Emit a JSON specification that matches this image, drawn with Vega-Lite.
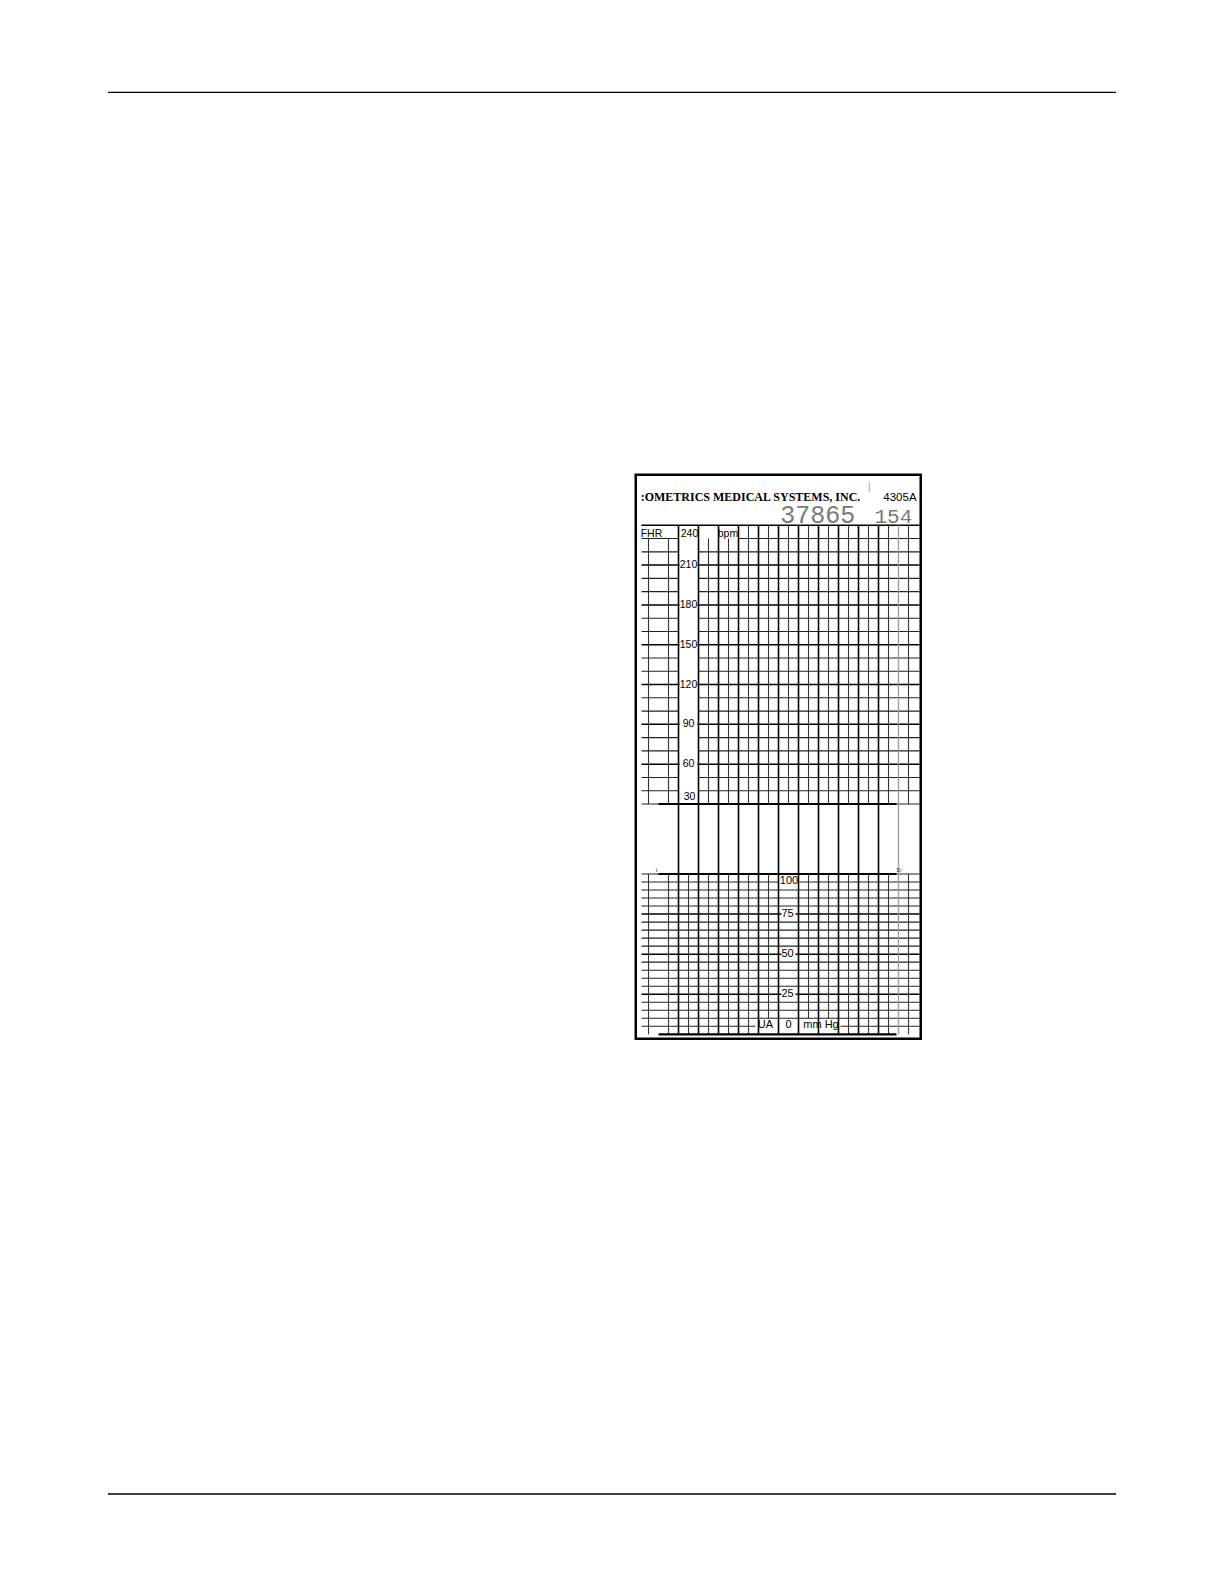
{
  "$schema": "https://vega.github.io/schema/vega-lite/v6.json",
  "description": "Fetal monitor strip chart paper (FHR bpm / UA mm Hg) on a letter page",
  "width": 1224,
  "height": 1584,
  "autosize": {"type": "fit", "contains": "padding"},
  "padding": 0,
  "background": "white",
  "config": {"view": {"stroke": null}},
  "datasets": {
    "page_rules": [
      {"x0": 0.75, "x1": 7.75, "y": 0.641},
      {"x0": 0.75, "x1": 7.75, "y": 10.375}
    ],
    "frame": [{"x0": 4.415, "x1": 6.394, "y0": 3.297, "y1": 7.213}],
    "header_serif": [{"label": ":OMETRICS MEDICAL SYSTEMS, INC.", "x": 4.449, "y": 3.477}],
    "header_sans": [{"label": "4305A", "x": 6.134, "y": 3.477}],
    "header_serial": [{"label": "37865", "x": 5.679, "y": 3.634}],
    "header_page": [{"label": "154", "x": 6.204, "y": 3.634}],
    "header_tick": [{"x": 6.037, "y0": 3.345, "y1": 3.415}],
    "fhr_minor": [
      {"bpm": 30, "t0": -7, "t1": 271},
      {"bpm": 40, "t0": -7, "t1": 30}, {"bpm": 40, "t0": 50, "t1": 271},
      {"bpm": 50, "t0": -7, "t1": 30}, {"bpm": 50, "t0": 50, "t1": 271},
      {"bpm": 70, "t0": -7, "t1": 30}, {"bpm": 70, "t0": 50, "t1": 271},
      {"bpm": 80, "t0": -7, "t1": 30}, {"bpm": 80, "t0": 50, "t1": 271},
      {"bpm": 100, "t0": -7, "t1": 30}, {"bpm": 100, "t0": 50, "t1": 271},
      {"bpm": 110, "t0": -7, "t1": 30}, {"bpm": 110, "t0": 50, "t1": 271},
      {"bpm": 130, "t0": -7, "t1": 30}, {"bpm": 130, "t0": 50, "t1": 271},
      {"bpm": 140, "t0": -7, "t1": 30}, {"bpm": 140, "t0": 50, "t1": 271},
      {"bpm": 160, "t0": -7, "t1": 30}, {"bpm": 160, "t0": 50, "t1": 271},
      {"bpm": 170, "t0": -7, "t1": 30}, {"bpm": 170, "t0": 50, "t1": 271},
      {"bpm": 190, "t0": -7, "t1": 30}, {"bpm": 190, "t0": 50, "t1": 271},
      {"bpm": 200, "t0": -7, "t1": 30}, {"bpm": 200, "t0": 50, "t1": 271},
      {"bpm": 220, "t0": -7, "t1": 30}, {"bpm": 220, "t0": 50, "t1": 271},
      {"bpm": 230, "t0": -7, "t1": 30}, {"bpm": 230, "t0": 90, "t1": 271}
    ],
    "fhr_major": [
      {"bpm": 60, "t0": -7, "t1": 31}, {"bpm": 60, "t0": 49, "t1": 271},
      {"bpm": 90, "t0": -7, "t1": 31}, {"bpm": 90, "t0": 49, "t1": 271},
      {"bpm": 120, "t0": -7, "t1": 31}, {"bpm": 120, "t0": 49, "t1": 271},
      {"bpm": 150, "t0": -7, "t1": 31}, {"bpm": 150, "t0": 49, "t1": 271},
      {"bpm": 180, "t0": -7, "t1": 31}, {"bpm": 180, "t0": 49, "t1": 271},
      {"bpm": 210, "t0": -7, "t1": 31}, {"bpm": 210, "t0": 49, "t1": 271},
      {"bpm": 240, "t0": -7, "t1": 271}
    ],
    "fhr_heavy": [{"bpm": 30, "t0": 10, "t1": 248}],
    "fhr_thin_v": [
      {"t": 0, "bpm0": 30, "bpm1": 230}, {"t": 20, "bpm0": 30, "bpm1": 230},
      {"t": 60, "bpm0": 30, "bpm1": 230}, {"t": 80, "bpm0": 30, "bpm1": 230},
      {"t": 100, "bpm0": 30, "bpm1": 240}, {"t": 120, "bpm0": 30, "bpm1": 240},
      {"t": 140, "bpm0": 30, "bpm1": 240}, {"t": 160, "bpm0": 30, "bpm1": 240},
      {"t": 180, "bpm0": 30, "bpm1": 240}, {"t": 200, "bpm0": 30, "bpm1": 240},
      {"t": 220, "bpm0": 30, "bpm1": 240}, {"t": 240, "bpm0": 30, "bpm1": 240},
      {"t": 260, "bpm0": 30, "bpm1": 240}
    ],
    "fhr_labels": [
      {"label": "FHR", "t": 3, "bpm": 233.5},
      {"label": "240", "t": 41, "bpm": 233.5},
      {"label": "bpm", "t": 79.5, "bpm": 233.5},
      {"label": "210", "t": 40, "bpm": 210},
      {"label": "180", "t": 40, "bpm": 180},
      {"label": "150", "t": 40, "bpm": 150},
      {"label": "120", "t": 40, "bpm": 120},
      {"label": "90", "t": 40, "bpm": 90},
      {"label": "60", "t": 40, "bpm": 60},
      {"label": "30", "t": 41, "bpm": 35}
    ],
    "ua_minor": [
      {"mmHg": 5, "t0": -7, "t1": 107}, {"mmHg": 5, "t0": 192, "t1": 271},
      {"mmHg": 10, "t0": -7, "t1": 271}, {"mmHg": 15, "t0": -7, "t1": 271},
      {"mmHg": 20, "t0": -7, "t1": 271}, {"mmHg": 30, "t0": -7, "t1": 271},
      {"mmHg": 35, "t0": -7, "t1": 271}, {"mmHg": 40, "t0": -7, "t1": 271},
      {"mmHg": 45, "t0": -7, "t1": 271}, {"mmHg": 55, "t0": -7, "t1": 271},
      {"mmHg": 60, "t0": -7, "t1": 271}, {"mmHg": 65, "t0": -7, "t1": 271},
      {"mmHg": 70, "t0": -7, "t1": 271}, {"mmHg": 80, "t0": -7, "t1": 271},
      {"mmHg": 85, "t0": -7, "t1": 271}, {"mmHg": 90, "t0": -7, "t1": 271},
      {"mmHg": 95, "t0": -7, "t1": 130}, {"mmHg": 95, "t0": 151, "t1": 271},
      {"mmHg": 100, "t0": -7, "t1": 271}
    ],
    "ua_major": [
      {"mmHg": 25, "t0": -7, "t1": 133}, {"mmHg": 25, "t0": 147, "t1": 271},
      {"mmHg": 50, "t0": -7, "t1": 133}, {"mmHg": 50, "t0": 147, "t1": 271},
      {"mmHg": 75, "t0": -7, "t1": 133}, {"mmHg": 75, "t0": 147, "t1": 271}
    ],
    "ua_heavy": [
      {"mmHg": 100, "t0": 10, "t1": 248},
      {"mmHg": 0, "t0": 10, "t1": 248}
    ],
    "ua_thin_v": [
      {"t": 0, "mm0": 0, "mm1": 100}, {"t": 20, "mm0": 0, "mm1": 100},
      {"t": 40, "mm0": 0, "mm1": 100}, {"t": 60, "mm0": 0, "mm1": 100},
      {"t": 80, "mm0": 0, "mm1": 100}, {"t": 100, "mm0": 0, "mm1": 100},
      {"t": 120, "mm0": 10, "mm1": 100}, {"t": 160, "mm0": 10, "mm1": 100},
      {"t": 180, "mm0": 10, "mm1": 100}, {"t": 200, "mm0": 0, "mm1": 100},
      {"t": 220, "mm0": 0, "mm1": 100}, {"t": 240, "mm0": 0, "mm1": 100},
      {"t": 260, "mm0": 0, "mm1": 100}
    ],
    "ua_labels": [
      {"label": "100", "t": 140.5, "mmHg": 95.5},
      {"label": "75", "t": 139, "mmHg": 75},
      {"label": "50", "t": 139, "mmHg": 50},
      {"label": "25", "t": 139, "mmHg": 25},
      {"label": "UA", "t": 117, "mmHg": 5.5},
      {"label": "0", "t": 140, "mmHg": 5.5},
      {"label": "mm Hg", "t": 172.5, "mmHg": 5.5}
    ],
    "ua_marks": [
      {"label": "t", "t": 8, "mmHg": 102.5},
      {"label": "D:", "t": 251, "mmHg": 102.5}
    ],
    "minute_lines": [
      {"t": 30}, {"t": 50}, {"t": 70}, {"t": 90}, {"t": 110}, {"t": 130},
      {"t": 150}, {"t": 170}, {"t": 190}, {"t": 210}, {"t": 230}
    ],
    "edge_line": [{"t": 250}]
  },
  "resolve": {"scale": {"x": "independent", "y": "independent"}},
  "layer": [
    {
      "data": {"name": "page_rules"},
      "mark": {"type": "rule", "color": "#000", "strokeWidth": 1.3},
      "encoding": {
        "x": {"field": "x0", "type": "quantitative", "scale": {"domain": [0, 8.5], "nice": false, "zero": false}, "axis": null},
        "x2": {"field": "x1"},
        "y": {"field": "y", "type": "quantitative", "scale": {"domain": [0, 11], "reverse": true, "nice": false, "zero": false}, "axis": null}
      }
    },
    {
      "data": {"name": "fhr_minor"},
      "mark": {"type": "rule", "color": "#222", "strokeWidth": 1.1},
      "encoding": {
        "x": {"field": "t0", "type": "quantitative", "scale": {"domain": [-648.5, 575.5], "nice": false, "zero": false}, "axis": null},
        "x2": {"field": "t1"},
        "y": {"field": "bpm", "type": "quantitative", "scale": {"domain": [-557.75, 635.81], "nice": false, "zero": false}, "axis": null}
      }
    },
    {
      "data": {"name": "fhr_major"},
      "mark": {"type": "rule", "color": "#000", "strokeWidth": 1.5},
      "encoding": {
        "x": {"field": "t0", "type": "quantitative", "scale": {"domain": [-648.5, 575.5], "nice": false, "zero": false}, "axis": null},
        "x2": {"field": "t1"},
        "y": {"field": "bpm", "type": "quantitative", "scale": {"domain": [-557.75, 635.81], "nice": false, "zero": false}, "axis": null}
      }
    },
    {
      "data": {"name": "fhr_thin_v"},
      "mark": {"type": "rule", "color": "#333", "strokeWidth": 1.1},
      "encoding": {
        "x": {"field": "t", "type": "quantitative", "scale": {"domain": [-648.5, 575.5], "nice": false, "zero": false}, "axis": null},
        "y": {"field": "bpm0", "type": "quantitative", "scale": {"domain": [-557.75, 635.81], "nice": false, "zero": false}, "axis": null},
        "y2": {"field": "bpm1"}
      }
    },
    {
      "data": {"name": "ua_minor"},
      "mark": {"type": "rule", "color": "#222", "strokeWidth": 1.1},
      "encoding": {
        "x": {"field": "t0", "type": "quantitative", "scale": {"domain": [-648.5, 575.5], "nice": false, "zero": false}, "axis": null},
        "x2": {"field": "t1"},
        "y": {"field": "mmHg", "type": "quantitative", "scale": {"domain": [-342.92, 645.23], "nice": false, "zero": false}, "axis": null}
      }
    },
    {
      "data": {"name": "ua_major"},
      "mark": {"type": "rule", "color": "#000", "strokeWidth": 1.5},
      "encoding": {
        "x": {"field": "t0", "type": "quantitative", "scale": {"domain": [-648.5, 575.5], "nice": false, "zero": false}, "axis": null},
        "x2": {"field": "t1"},
        "y": {"field": "mmHg", "type": "quantitative", "scale": {"domain": [-342.92, 645.23], "nice": false, "zero": false}, "axis": null}
      }
    },
    {
      "data": {"name": "ua_thin_v"},
      "mark": {"type": "rule", "color": "#333", "strokeWidth": 1.1},
      "encoding": {
        "x": {"field": "t", "type": "quantitative", "scale": {"domain": [-648.5, 575.5], "nice": false, "zero": false}, "axis": null},
        "y": {"field": "mm0", "type": "quantitative", "scale": {"domain": [-342.92, 645.23], "nice": false, "zero": false}, "axis": null},
        "y2": {"field": "mm1"}
      }
    },
    {
      "data": {"name": "minute_lines"},
      "mark": {"type": "rule", "color": "#000", "strokeWidth": 1.6},
      "encoding": {
        "x": {"field": "t", "type": "quantitative", "scale": {"domain": [-648.5, 575.5], "nice": false, "zero": false}, "axis": null},
        "y": {"datum": 3.648, "type": "quantitative", "scale": {"domain": [0, 11], "reverse": true, "nice": false, "zero": false}, "axis": null},
        "y2": {"datum": 7.183}
      }
    },
    {
      "data": {"name": "edge_line"},
      "mark": {"type": "rule", "color": "#999", "strokeWidth": 1.3},
      "encoding": {
        "x": {"field": "t", "type": "quantitative", "scale": {"domain": [-648.5, 575.5], "nice": false, "zero": false}, "axis": null},
        "y": {"datum": 3.648, "type": "quantitative", "scale": {"domain": [0, 11], "reverse": true, "nice": false, "zero": false}, "axis": null},
        "y2": {"datum": 7.183}
      }
    },
    {
      "data": {"name": "fhr_heavy"},
      "mark": {"type": "rule", "color": "#000", "strokeWidth": 2.2},
      "encoding": {
        "x": {"field": "t0", "type": "quantitative", "scale": {"domain": [-648.5, 575.5], "nice": false, "zero": false}, "axis": null},
        "x2": {"field": "t1"},
        "y": {"field": "bpm", "type": "quantitative", "scale": {"domain": [-557.75, 635.81], "nice": false, "zero": false}, "axis": null}
      }
    },
    {
      "data": {"name": "ua_heavy"},
      "mark": {"type": "rule", "color": "#000", "strokeWidth": 2.2},
      "encoding": {
        "x": {"field": "t0", "type": "quantitative", "scale": {"domain": [-648.5, 575.5], "nice": false, "zero": false}, "axis": null},
        "x2": {"field": "t1"},
        "y": {"field": "mmHg", "type": "quantitative", "scale": {"domain": [-342.92, 645.23], "nice": false, "zero": false}, "axis": null}
      }
    },
    {
      "data": {"name": "frame"},
      "mark": {"type": "rect", "fillOpacity": 0, "stroke": "#000", "strokeWidth": 2.5},
      "encoding": {
        "x": {"field": "x0", "type": "quantitative", "scale": {"domain": [0, 8.5], "nice": false, "zero": false}, "axis": null},
        "x2": {"field": "x1"},
        "y": {"field": "y0", "type": "quantitative", "scale": {"domain": [0, 11], "reverse": true, "nice": false, "zero": false}, "axis": null},
        "y2": {"field": "y1"}
      }
    },
    {
      "data": {"name": "header_tick"},
      "mark": {"type": "rule", "color": "#999", "strokeWidth": 0.9},
      "encoding": {
        "x": {"field": "x", "type": "quantitative", "scale": {"domain": [0, 8.5], "nice": false, "zero": false}, "axis": null},
        "y": {"field": "y0", "type": "quantitative", "scale": {"domain": [0, 11], "reverse": true, "nice": false, "zero": false}, "axis": null},
        "y2": {"field": "y1"}
      }
    },
    {
      "data": {"name": "header_serif"},
      "mark": {"type": "text", "font": "Liberation Serif", "fontWeight": "bold", "fontSize": 12, "align": "left", "baseline": "alphabetic", "color": "#000"},
      "encoding": {
        "x": {"field": "x", "type": "quantitative", "scale": {"domain": [0, 8.5], "nice": false, "zero": false}, "axis": null},
        "y": {"field": "y", "type": "quantitative", "scale": {"domain": [0, 11], "reverse": true, "nice": false, "zero": false}, "axis": null},
        "text": {"field": "label"}
      }
    },
    {
      "data": {"name": "header_sans"},
      "mark": {"type": "text", "font": "Liberation Sans", "fontSize": 11.5, "align": "left", "baseline": "alphabetic", "color": "#000"},
      "encoding": {
        "x": {"field": "x", "type": "quantitative", "scale": {"domain": [0, 8.5], "nice": false, "zero": false}, "axis": null},
        "y": {"field": "y", "type": "quantitative", "scale": {"domain": [0, 11], "reverse": true, "nice": false, "zero": false}, "axis": null},
        "text": {"field": "label"}
      }
    },
    {
      "data": {"name": "header_serial"},
      "mark": {"type": "text", "font": "Liberation Mono", "fontSize": 25, "align": "center", "baseline": "alphabetic", "color": "#7a7a7a"},
      "encoding": {
        "x": {"field": "x", "type": "quantitative", "scale": {"domain": [0, 8.5], "nice": false, "zero": false}, "axis": null},
        "y": {"field": "y", "type": "quantitative", "scale": {"domain": [0, 11], "reverse": true, "nice": false, "zero": false}, "axis": null},
        "text": {"field": "label"}
      }
    },
    {
      "data": {"name": "header_page"},
      "mark": {"type": "text", "font": "Liberation Mono", "fontSize": 21, "align": "center", "baseline": "alphabetic", "color": "#7a7a7a"},
      "encoding": {
        "x": {"field": "x", "type": "quantitative", "scale": {"domain": [0, 8.5], "nice": false, "zero": false}, "axis": null},
        "y": {"field": "y", "type": "quantitative", "scale": {"domain": [0, 11], "reverse": true, "nice": false, "zero": false}, "axis": null},
        "text": {"field": "label"}
      }
    },
    {
      "data": {"name": "fhr_labels"},
      "mark": {"type": "text", "font": "Liberation Sans", "fontSize": 10.5, "align": "center", "baseline": "middle", "color": "#000"},
      "encoding": {
        "x": {"field": "t", "type": "quantitative", "scale": {"domain": [-648.5, 575.5], "nice": false, "zero": false}, "axis": null},
        "y": {"field": "bpm", "type": "quantitative", "scale": {"domain": [-557.75, 635.81], "nice": false, "zero": false}, "axis": null},
        "text": {"field": "label"}
      }
    },
    {
      "data": {"name": "ua_labels"},
      "mark": {"type": "text", "font": "Liberation Sans", "fontSize": 11, "align": "center", "baseline": "middle", "color": "#000"},
      "encoding": {
        "x": {"field": "t", "type": "quantitative", "scale": {"domain": [-648.5, 575.5], "nice": false, "zero": false}, "axis": null},
        "y": {"field": "mmHg", "type": "quantitative", "scale": {"domain": [-342.92, 645.23], "nice": false, "zero": false}, "axis": null},
        "text": {"field": "label"}
      }
    },
    {
      "data": {"name": "ua_marks"},
      "mark": {"type": "text", "font": "Liberation Sans", "fontSize": 6, "align": "center", "baseline": "middle", "color": "#333"},
      "encoding": {
        "x": {"field": "t", "type": "quantitative", "scale": {"domain": [-648.5, 575.5], "nice": false, "zero": false}, "axis": null},
        "y": {"field": "mmHg", "type": "quantitative", "scale": {"domain": [-342.92, 645.23], "nice": false, "zero": false}, "axis": null},
        "text": {"field": "label"}
      }
    }
  ]
}
